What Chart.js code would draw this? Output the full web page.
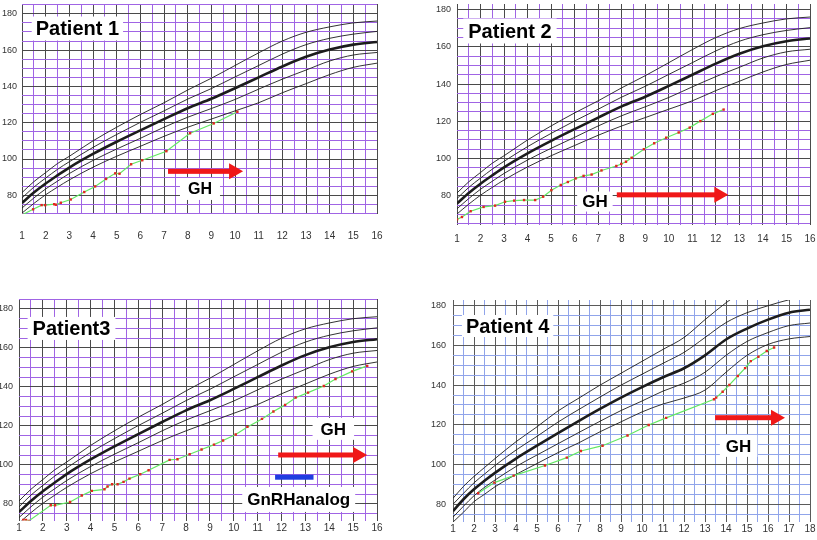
<!DOCTYPE html>
<html>
<head>
<meta charset="utf-8">
<script src="https://cdn.jsdelivr.net/npm/chart.js@4.4.1/dist/chart.umd.min.js"></script>
<style>
  body { margin: 0; background: #fff; width: 817px; height: 540px; position: relative; overflow: hidden; }
  canvas { position: absolute; }
</style>
</head>
<body>
<canvas id="p1" style="left:0;top:0"></canvas>
<canvas id="p2" style="left:410px;top:0"></canvas>
<canvas id="p3" style="left:0;top:290px"></canvas>
<canvas id="p4" style="left:410px;top:290px"></canvas>
<script>
// reference curves, girls (panels 1-3): -2SD, -1SD, median, +1SD, +2SD
const GIRL_AGES = [1, 1.5, 2, 2.5, 3, 4, 5, 6, 7, 8, 9, 10, 11, 12, 13, 14, 15, 16];
const GIRL_PLUS2 = [81.5, 87.5, 92.5, 97.5, 101.5, 110, 117.5, 124.5, 131, 138, 144.5, 151.5, 158.5, 165, 169.8, 172.8, 175, 176];
const GIRL_PLUS1 = [78.5, 84.5, 89.5, 94.3, 98.5, 106.4, 113.5, 120.2, 126.5, 133, 138.8, 145.2, 151.5, 157.8, 163, 166.5, 168.8, 170.3];
const GIRL_MEDIAN = [75.8, 81.5, 86.5, 91, 95.3, 102.8, 109.5, 115.8, 122, 128, 133.2, 139, 145, 151, 156.3, 160.3, 163, 164.5];
const GIRL_MINUS1 = [73, 78.5, 83.5, 87.8, 92, 99.2, 105.5, 111.4, 117.5, 123, 127.8, 132.8, 138.5, 144, 149, 154, 157.3, 158.7];
const GIRL_MINUS2 = [70.2, 75.5, 80.3, 84.5, 88.5, 95.5, 101.5, 107, 112.5, 117.5, 122, 126.5, 131, 136.5, 141.5, 146.5, 150.5, 152.8];

// reference curves, boys (panel 4)
const BOY_AGES = [1, 1.5, 2, 2.5, 3, 4, 5, 6, 7, 8, 9, 10, 11, 12, 13, 14, 15, 16, 17, 18];
const BOY_PLUS2 = [83, 89, 94, 98.5, 103, 111.5, 119, 127, 133.5, 140, 146, 152, 158, 164, 173, 181.5, 189, null, null, null];
const BOY_PLUS1 = [80, 85.5, 90.8, 95.2, 99.5, 107.3, 114.2, 121.4, 127.8, 134, 140, 145.5, 151, 156.5, 164, 171.5, 176.5, 180, 183, 185];
const BOY_MEDIAN = [76.5, 82.5, 87.5, 91.8, 95.8, 103, 109.5, 115.8, 122, 128, 133.7, 139, 144, 148.5, 155, 163, 168.5, 173, 176.5, 178];
const BOY_MINUS1 = [73.5, 79, 84.3, 88.5, 92.2, 99, 104.8, 110.5, 116.2, 121.8, 127.2, 132, 137, 141, 146.5, 155, 162, 166.5, 170, 171.3];
const BOY_MINUS2 = [71, 76, 81.3, 85, 88.8, 95, 100.5, 106, 111, 116.5, 121.5, 126.5, 130.5, 133.5, 137.5, 146.5, 155, 160.5, 163.3, 164.5];

// patient measurements (age in years, height in cm)
const P1_AGE = [1.0, 1.47, 1.83, 1.98, 2.36, 2.43, 2.64, 3.06, 3.63, 4.09, 4.55, 4.94, 5.12, 5.61, 6.08, 7.1, 8.1, 9.1, 10.1];
const P1_HEIGHT = [69.2, 72.3, 74.6, 74.6, 75.1, 74.8, 75.9, 77.7, 81.8, 84.9, 89.0, 92.1, 91.9, 97.1, 99.3, 104.3, 114.2, 119.6, 126.0];
const P2_AGE = [1.0, 1.21, 1.58, 2.13, 2.62, 3.04, 3.43, 3.85, 4.32, 4.66, 5.01, 5.41, 5.71, 6.04, 6.38, 6.72, 7.14, 7.77, 7.98, 8.18, 8.42, 8.94, 9.38, 9.89, 10.42, 10.89, 11.34, 11.87, 12.33];
const P2_HEIGHT = [67.3, 68.6, 71.7, 74.0, 74.7, 76.8, 77.4, 77.7, 77.7, 79.5, 83.0, 85.8, 87.4, 89.3, 90.7, 91.4, 93.6, 96.0, 97.1, 98.3, 100.4, 105.0, 108.2, 111.2, 114.0, 116.6, 120.1, 124.0, 126.3];
const P3_AGE = [1.18, 1.29, 1.41, 2.33, 2.51, 3.14, 3.63, 4.05, 4.58, 4.71, 4.9, 5.13, 5.38, 5.63, 6.08, 6.43, 7.31, 7.64, 8.15, 8.65, 9.17, 9.55, 10.08, 10.57, 11.18, 11.66, 12.15, 12.59, 13.11, 13.77, 14.26, 14.96, 15.59];
const P3_HEIGHT = [71.8, 71.8, 71.3, 79.3, 79.3, 81.0, 84.3, 86.7, 87.5, 88.9, 90.1, 90.1, 91.3, 93.0, 95.2, 97.3, 102.6, 102.9, 105.5, 107.9, 110.4, 112.5, 115.6, 119.5, 123.6, 127.4, 130.8, 134.5, 137.1, 140.5, 144.1, 148.0, 150.8];
const P4_AGE = [2.2, 2.97, 3.89, 5.38, 6.42, 7.09, 8.12, 9.31, 10.32, 11.15, 13.43, 13.53, 13.84, 14.16, 14.56, 14.91, 15.18, 15.54, 15.94, 16.29];
const P4_HEIGHT = [85.5, 90.9, 94.4, 99.5, 103.5, 106.8, 109.5, 114.6, 119.9, 123.5, 132.9, 133.7, 136.7, 140.1, 144.6, 148.6, 152.1, 154.3, 157.2, 159.0];

const X_STEP = 0.5;
const Y_STEP = 5;
const Y_LABEL_STEP = 20;

const pts = (xs, ys) => xs.map((x, i) => ({ x, y: ys[i] }));

const notesPlugin = {
  id: 'notes',
  afterDatasetsDraw(chart, args, opts) {
    const { ctx, scales: { x, y } } = chart;
    ctx.save();
    (opts.labels || []).forEach((l) => {
      ctx.font = `bold ${l.size}px "Liberation Sans", Arial, sans-serif`;
      const w = ctx.measureText(l.text).width;
      const px = x.getPixelForValue(l.x);
      const py = y.getPixelForValue(l.y);
      ctx.fillStyle = '#fff';
      ctx.fillRect(px - w / 2 - l.padX, py - l.h / 2, w + l.padX * 2, l.h);
      ctx.fillStyle = '#000';
      ctx.textAlign = 'center';
      ctx.textBaseline = 'middle';
      ctx.fillText(l.text, px, py + 1);
    });
    (opts.bars || []).forEach((b) => {
      const x0 = x.getPixelForValue(b.from);
      const x1 = x.getPixelForValue(b.to);
      const py = y.getPixelForValue(b.at);
      ctx.fillStyle = '#1f3de0';
      ctx.fillRect(x0, py - 2.5, x1 - x0, 5);
    });
    (opts.arrows || []).forEach((a) => {
      const x0 = x.getPixelForValue(a.from);
      const x1 = x.getPixelForValue(a.to);
      const py = y.getPixelForValue(a.at);
      ctx.fillStyle = '#f01818';
      ctx.fillRect(x0, py - 2.5, x1 - x0 - 13, 5);
      ctx.beginPath();
      ctx.moveTo(x1, py);
      ctx.lineTo(x1 - 14, py - 8);
      ctx.lineTo(x1 - 14, py + 8);
      ctx.closePath();
      ctx.fill();
    });
    ctx.restore();
  }
};

function stepTicks(scale, step) {
  const out = [];
  for (let v = Math.ceil(scale.min / step) * step; v <= scale.max + 1e-9; v += step) out.push({ value: v });
  scale.ticks = out;
}

function makePanel(id, p) {
  const canvas = document.getElementById(id);
  canvas.width = p.w;
  canvas.height = p.h;
  canvas.style.width = p.w + 'px';
  canvas.style.height = p.h + 'px';

  const curves = [p.curves[0], p.curves[1], p.curves[2], p.curves[3], p.curves[4]].map((c, i) => ({
    data: pts(p.ages, c),
    borderColor: '#1c1c1c',
    borderWidth: i === 2 ? 2.6 : 0.9,
    pointRadius: 0,
    cubicInterpolationMode: 'monotone',
    spanGaps: false,
    clip: 0
  }));

  return new Chart(canvas, {
    type: 'line',
    data: {
      datasets: [{
        data: pts(p.patientAge, p.patientHeight),
        borderColor: '#62e862',
        borderWidth: 1.2,
        pointStyle: 'rect',
        pointRadius: 1.7,
        pointBackgroundColor: '#e3261f',
        pointBorderWidth: 0,
        tension: 0,
        clip: 0
      }, ...curves]
    },
    plugins: [notesPlugin],
    options: {
      responsive: false,
      animation: false,
      events: [],
      layout: { padding: { left: 0, top: p.padTop, right: p.padRight, bottom: 0 } },
      plugins: {
        legend: { display: false },
        tooltip: { enabled: false },
        notes: p.notes
      },
      scales: {
        x: {
          type: 'linear',
          min: p.xMin,
          max: p.xMax,
          afterBuildTicks: (s) => stepTicks(s, X_STEP),
          afterFit: (s) => { s.height = p.xAxisH; s.paddingLeft = 0; s.paddingRight = 0; },
          ticks: {
            autoSkip: false,
            maxRotation: 0,
            padding: p.xPad,
            font: { size: 10, family: '"Liberation Sans", Arial, sans-serif' },
            color: '#333',
            callback: (v) => (Number.isInteger(v) ? String(v) : '')
          },
          grid: {
            drawTicks: false,
            lineWidth: 1,
            color: (c) => (Number.isInteger(c.tick.value) ? p.dark : p.light)
          },
          border: { display: false }
        },
        y: {
          min: p.yMin,
          max: p.yMax,
          afterBuildTicks: (s) => stepTicks(s, Y_STEP),
          afterFit: (s) => { s.width = p.yAxisW; s.paddingTop = 0; s.paddingBottom = 0; },
          ticks: {
            autoSkip: false,
            padding: p.yPad,
            font: { size: 9, family: '"Liberation Sans", Arial, sans-serif' },
            color: '#333',
            callback: (v) => (Math.round(v) % Y_LABEL_STEP === 0 ? String(Math.round(v)) : '')
          },
          grid: {
            drawTicks: false,
            lineWidth: 1,
            color: (c) => (Math.round(c.tick.value) % Y_LABEL_STEP === 0 ? p.dark : p.light)
          },
          border: { display: false }
        }
      }
    }
  });
}

const GIRL_CURVES = [GIRL_MINUS2, GIRL_MINUS1, GIRL_MEDIAN, GIRL_PLUS1, GIRL_PLUS2];
const BOY_CURVES = [BOY_MINUS2, BOY_MINUS1, BOY_MEDIAN, BOY_PLUS1, BOY_PLUS2];
const PURPLE = '#a064e4';
const BLUE = '#90a4ea';

makePanel('p1', {
  w: 400, h: 250, padTop: 0, padRight: 23, yAxisW: 22, xAxisH: 36, xPad: 16, yPad: 5,
  xMin: 1, xMax: 16, yMin: 69.7, yMax: 185.4, dark: '#4a4a4a', light: PURPLE,
  ages: GIRL_AGES, curves: GIRL_CURVES, patientAge: P1_AGE, patientHeight: P1_HEIGHT,
  notes: {
    labels: [
      { text: 'Patient 1', x: 3.34, y: 171.9, size: 20, padX: 4, h: 24 },
      { text: 'GH', x: 8.52, y: 83.5, size: 16, padX: 8, h: 22 }
    ],
    arrows: [{ from: 7.17, to: 10.34, at: 93.2 }]
  }
});

makePanel('p2', {
  w: 407, h: 250, padTop: 0, padRight: 7, yAxisW: 47, xAxisH: 25, xPad: 8, yPad: 6,
  xMin: 1, xMax: 16, yMin: 64.3, yMax: 183.0, dark: '#4a4a4a', light: PURPLE,
  ages: GIRL_AGES, curves: GIRL_CURVES, patientAge: P2_AGE, patientHeight: P2_HEIGHT,
  notes: {
    labels: [
      { text: 'Patient 2', x: 3.25, y: 168.5, size: 20, padX: 5, h: 25 },
      { text: 'GH', x: 6.86, y: 76.9, size: 17, padX: 5, h: 20 }
    ],
    arrows: [{ from: 7.79, to: 12.53, at: 80.5 }]
  }
});

makePanel('p3', {
  w: 400, h: 250, padTop: 9, padRight: 23, yAxisW: 19, xAxisH: 19.5, xPad: 1.5, yPad: 6,
  xMin: 1, xMax: 16, yMin: 71.5, yMax: 185.1, dark: '#4a4a4a', light: PURPLE,
  ages: GIRL_AGES, curves: GIRL_CURVES, patientAge: P3_AGE, patientHeight: P3_HEIGHT,
  notes: {
    labels: [
      { text: 'Patient3', x: 3.2, y: 170, size: 20, padX: 5, h: 23 },
      { text: 'GH', x: 14.17, y: 118.5, size: 17, padX: 8, h: 22 },
      { text: 'GnRHanalog', x: 12.72, y: 82.3, size: 17, padX: 5, h: 25 }
    ],
    bars: [{ from: 11.73, to: 13.34, at: 93.7 }],
    arrows: [{ from: 11.86, to: 15.59, at: 105.1 }]
  }
});

makePanel('p4', {
  w: 407, h: 250, padTop: 10, padRight: 7, yAxisW: 43, xAxisH: 18.3, xPad: 1.3, yPad: 7,
  xMin: 1, xMax: 18, yMin: 71.2, yMax: 182.9, dark: '#5a5a5a', light: BLUE,
  ages: BOY_AGES, curves: BOY_CURVES, patientAge: P4_AGE, patientHeight: P4_HEIGHT,
  notes: {
    labels: [
      { text: 'Patient 4', x: 3.6, y: 169.8, size: 20, padX: 4, h: 22 },
      { text: 'GH', x: 14.6, y: 109.4, size: 17, padX: 6, h: 22 }
    ],
    arrows: [{ from: 13.48, to: 16.81, at: 123.6 }]
  }
});
</script>
</body>
</html>
